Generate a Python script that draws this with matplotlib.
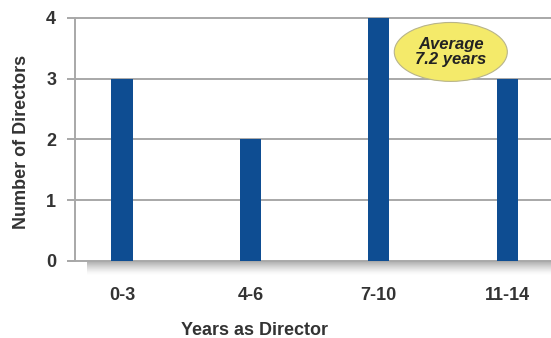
import matplotlib
matplotlib.use("Agg")
import matplotlib.pyplot as plt
from matplotlib.patches import Ellipse

plt.rcParams['font.family'] = ['Liberation Sans', 'DejaVu Sans']

categories = ['0-3', '4-6', '7-10', '11-14']
directors = [3, 2, 4, 3]
average_text = 'Average\n7.2 years'

fig = plt.figure(figsize=(5.51, 3.38), dpi=100)
ax = fig.add_axes([0.136, 0.228, 0.864, 0.719])

x = list(range(len(categories)))
ax.bar(x, directors, width=0.165, color='#0e4d92', zorder=3)

ax.set_xlim(-0.366, 3.34)
ax.set_ylim(0, 4)
ax.set_yticks([0, 1, 2, 3, 4])
ax.set_xticks(x)
ax.set_xticklabels(categories)

# horizontal grid lines, incl. top one
for yv in [1, 2, 3, 4]:
    ax.axhline(yv, color='#a8a8a8', lw=1.4, zorder=1, clip_on=False)

for s in ['top', 'right']:
    ax.spines[s].set_visible(False)
ax.spines['left'].set_color('#a8a8a8')
ax.spines['left'].set_linewidth(1.4)
ax.spines['bottom'].set_color('#a8a8a8')
ax.spines['bottom'].set_linewidth(1.4)

ax.tick_params(axis='y', length=5.5, color='#a8a8a8', width=1.4, pad=8,
               labelsize=13, labelcolor='#333333')
ax.tick_params(axis='x', length=0, pad=19, labelsize=13, labelcolor='#333333')
for lab in ax.get_xticklabels() + ax.get_yticklabels():
    lab.set_fontweight('bold')

# soft shadow under the baseline
px = 4 / 243.0
for i in range(13):
    a = 0.38 * (1 - i / 13) ** 1.5
    ax.plot([-0.27, 3.34], [-(i + 1.5) * px] * 2, color='#666666',
            lw=1.1, alpha=a, clip_on=False, zorder=0, solid_capstyle='butt')
# extend baseline to the left like the tick marks
ax.plot([-0.42, -0.366], [0, 0], color='#a8a8a8', lw=1.4, clip_on=False)

ax.set_xlabel('Years as Director', fontsize=13, fontweight='bold',
              color='#333333')
ax.xaxis.set_label_coords(0.378, -0.252)
ax.set_ylabel('Number of Directors', fontsize=13, fontweight='bold',
              color='#333333')
ax.yaxis.set_label_coords(-0.094, 0.49)

ell = Ellipse((2.56, 3.44), 0.88, 0.97, facecolor='#f4ea6a', edgecolor='#b8b48a',
              lw=0.8, zorder=4)
ax.add_patch(ell)
ax.text(2.56, 3.44, average_text, ha='center', va='center', fontsize=12,
        fontweight='bold', fontstyle='italic', color='#222222', zorder=5,
        linespacing=1.05)

fig.savefig('out.png', dpi=100)
